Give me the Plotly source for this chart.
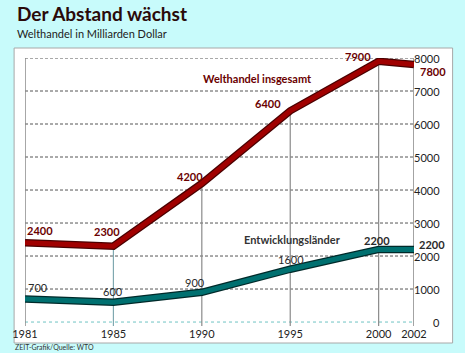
import plotly.graph_objects as go

# ---- data ----
years = [1981, 1985, 1990, 1995, 2000, 2002]
welthandel = [2400, 2300, 4200, 6400, 7900, 7800]
entwicklung = [700, 600, 900, 1600, 2200, 2200]
y_ticks = [0, 1000, 2000, 3000, 4000, 5000, 6000, 7000, 8000]
year_labels = ["1981", "1985", "1990", "1995", "2000", "2002"]

# the original graphic draws 1981 in the 1980 slot of its 5-year grid
xpos = [1980 if y == 1981 else y for y in years]

W, H = 465, 353
L, R, T, B = 21, 51, 58, 27
YMIN, YMAX = -120, 8000
XMIN, XMAX = 1980, 2002
PW, PH = W - L - R, H - T - B


def px(x):
    return (x - L) / PW


def py(y):
    return (H - B - y) / PH


FONT = "Lato"
RED = "#a00000"
RED_DARK = "#4a0000"
TEAL = "#007070"
TEAL_DARK = "#002a2a"

fig = go.Figure()

# thick outlined lines
fig.add_trace(go.Scatter(x=xpos, y=welthandel, mode="lines",
                         line=dict(color=RED_DARK, width=7.5), hoverinfo="skip"))
fig.add_trace(go.Scatter(x=xpos, y=welthandel, mode="lines",
                         line=dict(color=RED, width=5), hoverinfo="skip"))
fig.add_trace(go.Scatter(x=xpos, y=entwicklung, mode="lines",
                         line=dict(color=TEAL_DARK, width=7.5), hoverinfo="skip"))
fig.add_trace(go.Scatter(x=xpos, y=entwicklung, mode="lines",
                         line=dict(color=TEAL, width=5), hoverinfo="skip"))

shapes = []
# white panel
shapes.append(dict(type="rect", xref="paper", yref="paper",
                   x0=px(10), x1=px(453), y0=py(343), y1=py(48),
                   fillcolor="white", line=dict(color="#a8a8a8", width=1),
                   layer="below"))
# horizontal gridlines
for v in y_ticks:
    if v == 0:
        shapes.append(dict(type="line", xref="x", yref="y", x0=XMIN, x1=XMAX,
                           y0=v, y1=v, line=dict(color="#6fc4c4", width=1, dash="dot"),
                           layer="below"))
    else:
        shapes.append(dict(type="line", xref="x", yref="y", x0=XMIN, x1=XMAX,
                           y0=v, y1=v, line=dict(color="#555555", width=1, dash="3px,2px"),
                           layer="below"))
# left and right frame lines
shapes.append(dict(type="line", xref="x", yref="y", x0=xpos[0], x1=xpos[0],
                   y0=YMIN, y1=y_ticks[-1], line=dict(color="#8a8a8a", width=1.5),
                   layer="below"))
shapes.append(dict(type="line", xref="x", yref="y", x0=xpos[-1], x1=xpos[-1],
                   y0=YMIN, y1=y_ticks[-1] + 100, line=dict(color="#666666", width=1.2),
                   layer="below"))
# drop lines from data points
drop_colors = ["#7fa8b0", "#8a8a8a", "#8a8a8a", "#8a8a8a"]
for xi, v, c in zip(xpos[1:5], welthandel[1:5], drop_colors):
    shapes.append(dict(type="line", xref="x", yref="y", x0=xi, x1=xi,
                       y0=YMIN, y1=v, line=dict(color=c, width=1.2), layer="below"))

annotations = []
# titles
annotations.append(dict(text="<b>Der Abstand wächst</b>", xref="paper", yref="paper",
                        x=px(11), y=py(14), xanchor="left", yanchor="middle",
                        showarrow=False, font=dict(family=FONT, size=19, color="#2a0a0a")))
annotations.append(dict(text="Welthandel in Milliarden Dollar", xref="paper", yref="paper",
                        x=px(11), y=py(34), xanchor="left", yanchor="middle",
                        showarrow=False, font=dict(family=FONT, size=11, color="#222222")))
annotations.append(dict(text="ZEIT-Grafik/Quelle: WTO", xref="paper", yref="paper",
                        x=px(9), y=py(347), xanchor="left", yanchor="middle",
                        showarrow=False, font=dict(family=FONT, size=7, color="#333333")))
# series labels
annotations.append(dict(text="<b>Welthandel insgesamt</b>", xref="paper", yref="paper",
                        x=px(256), y=py(78), xanchor="center", yanchor="middle",
                        showarrow=False, font=dict(family=FONT, size=11, color="#6a0000")))
annotations.append(dict(text="<b>Entwicklungsländer</b>", xref="paper", yref="paper",
                        x=px(291), y=py(239), xanchor="center", yanchor="middle",
                        showarrow=False, font=dict(family=FONT, size=11, color="#333333")))

# value labels (pixel offsets from the data point)
red_off = [(15, 12), (-6, 15), (-12, 7), (-22, 7), (-21, 5), (19, -7)]
for i, (xi, v) in enumerate(zip(xpos, welthandel)):
    dx, dy = red_off[i]
    annotations.append(dict(text=f"<b>{v}</b>", x=xi, y=v, xref="x", yref="y",
                            xshift=dx, yshift=dy, showarrow=False,
                            xanchor="center", yanchor="middle",
                            font=dict(family=FONT, size=11, color="#6a0000")))
teal_off = [(13, 11), (0, 11), (-7, 10), (1, 10), (-2, 9), (18, 5)]
for i, (xi, v) in enumerate(zip(xpos, entwicklung)):
    dx, dy = teal_off[i]
    txt = f"<b>{v}</b>" if i in (4, 5) else str(v)
    annotations.append(dict(text=txt, x=xi, y=v, xref="x", yref="y",
                            xshift=dx, yshift=dy, showarrow=False,
                            xanchor="center", yanchor="middle",
                            font=dict(family=FONT, size=11, color="#2a2a2a")))

# right-aligned y tick labels
for v in y_ticks:
    annotations.append(dict(text=str(v), x=1, y=v, xref="paper", yref="y",
                            xanchor="right", yanchor="middle", xshift=28,
                            showarrow=False,
                            font=dict(family=FONT, size=11, color="#222222")))

fig.update_layout(
    width=W, height=H,
    margin=dict(l=L, r=R, t=T, b=B),
    paper_bgcolor="#c8fbfb",
    plot_bgcolor="white",
    showlegend=False,
    shapes=shapes,
    annotations=annotations,
    xaxis=dict(range=[XMIN, XMAX], tickvals=xpos, ticktext=year_labels,
               showgrid=False, zeroline=False, showline=False, ticks="",
               tickfont=dict(family=FONT, size=11, color="#222222"), fixedrange=True),
    yaxis=dict(range=[YMIN, YMAX], showgrid=False, zeroline=False, showline=False,
               showticklabels=False, ticks="", fixedrange=True),
)

fig.write_html("out.html")
